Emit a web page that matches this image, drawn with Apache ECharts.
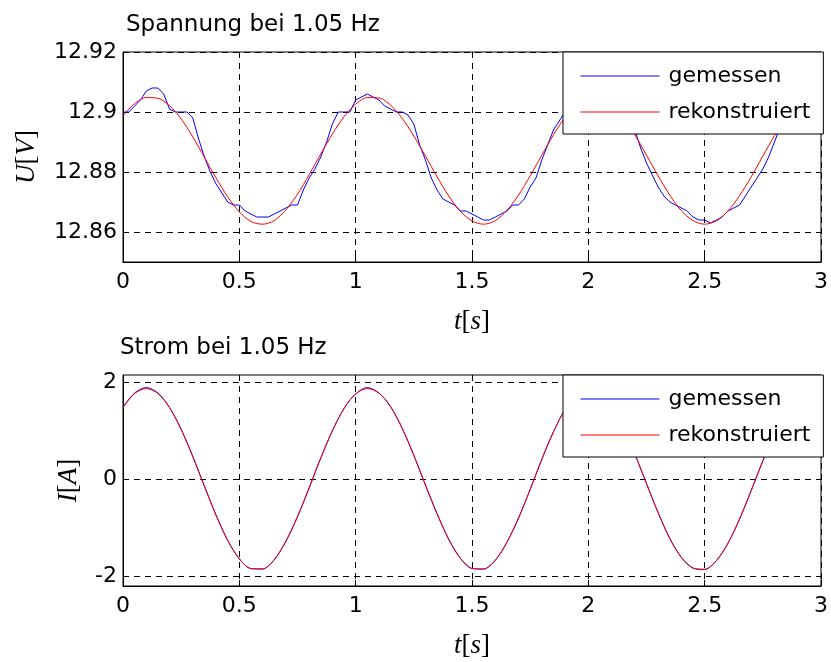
<!DOCTYPE html>
<html>
<head>
<meta charset="utf-8">
<script src="https://cdn.jsdelivr.net/npm/echarts@6/dist/echarts.min.js"></script>
<style>
  html, body { margin: 0; padding: 0; background: #fff; }
  #chart { width: 831px; height: 662px; }
</style>
</head>
<body>
<div id="chart"></div>
<script>
// Sampling steps [s] of the recorded and the reconstructed signals
const dtMeasured = 0.025;
const dtReconstructed = 0.05;

// Voltage [V], measured (quantized ADC readings)
const voltageMeasured = [
  12.900, 12.900, 12.902, 12.904, 12.907, 12.908, 12.908, 12.906, 12.901, 12.900,
  12.900, 12.900, 12.898, 12.891, 12.885, 12.880, 12.876, 12.873, 12.870, 12.869,
  12.869, 12.867, 12.866, 12.865, 12.865, 12.865, 12.866, 12.867, 12.868, 12.869,
  12.869, 12.874, 12.878, 12.881, 12.885, 12.890, 12.896, 12.900, 12.900, 12.900,
  12.904, 12.905, 12.906, 12.905, 12.904, 12.902, 12.901, 12.900, 12.900, 12.899,
  12.896, 12.889, 12.884, 12.878, 12.874, 12.871, 12.870, 12.869, 12.867, 12.867,
  12.866, 12.865, 12.864, 12.864, 12.865, 12.866, 12.867, 12.869, 12.869, 12.871,
  12.875, 12.878, 12.884, 12.889, 12.894, 12.897, 12.900, 12.900, 12.901, 12.904,
  12.905, 12.906, 12.905, 12.903, 12.901, 12.900, 12.900, 12.898, 12.894, 12.888,
  12.883, 12.879, 12.875, 12.872, 12.870, 12.869, 12.868, 12.867, 12.865, 12.864,
  12.864, 12.863, 12.864, 12.865, 12.867, 12.868, 12.869, 12.872, 12.875, 12.878,
  12.881, 12.885, 12.890, 12.895, 12.898, 12.900, 12.900, 12.901, 12.903, 12.904,
  12.905
];

// Voltage [V], reconstructed
const voltageReconstructed = [
  12.8987, 12.9028, 12.9048, 12.9046, 12.9021, 12.8977, 12.8917, 12.8849, 12.8780, 12.8717,
  12.8667, 12.8635, 12.8626, 12.8638, 12.8674, 12.8726, 12.8791, 12.8860, 12.8927, 12.8984,
  12.9026, 12.9048, 12.9047, 12.9023, 12.8979, 12.8920, 12.8853, 12.8784, 12.8720, 12.8669,
  12.8637, 12.8626, 12.8638, 12.8672, 12.8723, 12.8787, 12.8856, 12.8924, 12.8982, 12.9025,
  12.9047, 12.9047, 12.9025, 12.8982, 12.8924, 12.8856, 12.8787, 12.8723, 12.8671, 12.8638,
  12.8626, 12.8637, 12.8670, 12.8721, 12.8784, 12.8853, 12.8921, 12.8980, 12.9023, 12.9047,
  12.9048
];

// Current [A], measured
const currentMeasured = [
  1.49, 1.78, 1.89, 1.78, 1.48, 1.03, 0.47, -0.14, -0.74, -1.26,
  -1.64, -1.84, -1.85, -1.66, -1.28, -0.77, -0.18, 0.44, 1.00, 1.46,
  1.76, 1.89, 1.78, 1.50, 1.05, 0.49, -0.12, -0.71, -1.24, -1.63,
  -1.84, -1.85, -1.67, -1.30, -0.80, -0.21, 0.41, 0.98, 1.44, 1.75,
  1.88, 1.79, 1.51, 1.07, 0.52, -0.09, -0.69, -1.22, -1.61, -1.83,
  -1.86, -1.68, -1.32, -0.82, -0.23, 0.38, 0.95, 1.42, 1.74, 1.87,
  1.80
];

// Current [A], reconstructed
const currentReconstructed = [
  1.477, 1.769, 1.870, 1.769, 1.477, 1.027, 0.466, -0.146, -0.742, -1.257,
  -1.640, -1.842, -1.847, -1.655, -1.279, -0.769, -0.176, 0.438, 1.000, 1.460,
  1.760, 1.870, 1.778, 1.496, 1.051, 0.494, -0.118, -0.714, -1.236, -1.627,
  -1.836, -1.851, -1.668, -1.300, -0.797, -0.206, 0.410, 0.976, 1.442, 1.750,
  1.869, 1.788, 1.513, 1.075, 0.522, -0.088, -0.688, -1.216, -1.612, -1.831,
  -1.855, -1.681, -1.322, -0.821, -0.234, 0.380, 0.952, 1.421, 1.739, 1.868,
  1.795
];

// Axis ticks
const timeTicks = [0, 0.5, 1, 1.5, 2, 2.5, 3];
const voltageTicks = [12.86, 12.88, 12.9, 12.92];
const currentTicks = [-2, 0, 2];

const seriesNames = ['gemessen', 'rekonstruiert'];
const titles = ['Spannung bei 1.05 Hz', 'Strom bei 1.05 Hz'];

// Pair each sample with its time stamp
function withTime(values, dt) {
  return values.map((v, i) => [+(i * dt).toFixed(4), v]);
}

const SANS = 'DejaVu Sans';
const SERIF = 'Liberation Serif';
const mathRich = {
  i: { fontFamily: SERIF, fontStyle: 'italic', fontSize: 27, color: '#000' },
  r: { fontFamily: SERIF, fontSize: 27, color: '#000' }
};
const dashed = { color: '#000', width: 1, type: [6, 5] };

function timeAxis(gridIndex) {
  return {
    type: 'value', gridIndex, min: 0, max: 3, interval: 0.5,
    name: '{i|t}{r|[}{i|s}{r|]}', nameLocation: 'middle', nameGap: 46,
    nameTextStyle: { rich: mathRich },
    axisLine: { show: true, onZero: false, lineStyle: { color: '#000', width: 1 } },
    axisTick: { show: true, inside: true, length: 6, customValues: timeTicks, lineStyle: { color: '#000' } },
    axisLabel: { fontFamily: SANS, fontSize: 22, color: '#000', margin: 9, customValues: timeTicks },
    splitLine: { show: true, lineStyle: dashed }
  };
}

function valueAxis(gridIndex, min, max, ticks, name, gap) {
  return {
    type: 'value', gridIndex, min, max,
    name, nameLocation: 'middle', nameRotate: 90, nameGap: gap,
    nameTextStyle: { rich: mathRich },
    axisLine: { show: true, onZero: false, lineStyle: { color: '#000', width: 1 } },
    axisTick: { show: true, inside: true, length: 6, customValues: ticks, lineStyle: { color: '#000' } },
    axisLabel: { fontFamily: SANS, fontSize: 22, color: '#000', margin: 6, customValues: ticks },
    splitLine: { show: true, customValues: ticks, lineStyle: dashed }
  };
}

function legendAt(top) {
  return {
    data: seriesNames, orient: 'vertical', left: 563, top,
    padding: [13, 13, 11, 17], itemWidth: 79, itemHeight: 14, itemGap: 14,
    backgroundColor: '#fff', borderColor: '#000', borderWidth: 1, borderRadius: 0,
    itemStyle: { opacity: 0, borderWidth: 0 },
    lineStyle: { width: 1 },
    textStyle: { fontFamily: SANS, fontSize: 22, color: '#000', padding: [0, 0, 0, 4] },
    selectedMode: false
  };
}

function line(name, data, color, xi, smooth) {
  return {
    type: 'line', name, data, xAxisIndex: xi, yAxisIndex: xi,
    symbol: 'none', smooth: smooth ? 0.3 : false, clip: true,
    lineStyle: { color, width: 1 }, itemStyle: { color },
    emphasis: { disabled: true }
  };
}

const chart = echarts.init(document.getElementById('chart'), null, { renderer: 'canvas' });
chart.setOption({
  animation: false,
  backgroundColor: '#fff',
  title: [
    { text: titles[0], left: 126, top: 14, padding: 0,
      textStyle: { fontFamily: SANS, fontSize: 23, fontWeight: 'normal', color: '#000' } },
    { text: titles[1], left: 120, top: 337, padding: 0,
      textStyle: { fontFamily: SANS, fontSize: 23, fontWeight: 'normal', color: '#000' } }
  ],
  grid: [
    { left: 123, top: 52, width: 700, height: 210, show: true, borderColor: '#000', borderWidth: 1, backgroundColor: '#fff' },
    { left: 123, top: 375, width: 700, height: 211, show: true, borderColor: '#000', borderWidth: 1, backgroundColor: '#fff' }
  ],
  xAxis: [timeAxis(0), timeAxis(1)],
  yAxis: [
    valueAxis(0, 12.85, 12.92, voltageTicks, '{i|U}{r|[}{i|V}{r|]}', 83),
    valueAxis(1, -2.2, 2.15, currentTicks, '{i|I}{r|[}{i|A}{r|]}', 41)
  ],
  legend: [legendAt(52), legendAt(375)],
  series: [
    line(seriesNames[0], withTime(voltageMeasured, dtMeasured), '#0000ff', 0, false),
    line(seriesNames[1], withTime(voltageReconstructed, dtReconstructed), '#ff0000', 0, true),
    line(seriesNames[0], withTime(currentMeasured, dtReconstructed), '#0000ff', 1, true),
    line(seriesNames[1], withTime(currentReconstructed, dtReconstructed), '#ff0000', 1, true)
  ]
});
</script>
</body>
</html>
